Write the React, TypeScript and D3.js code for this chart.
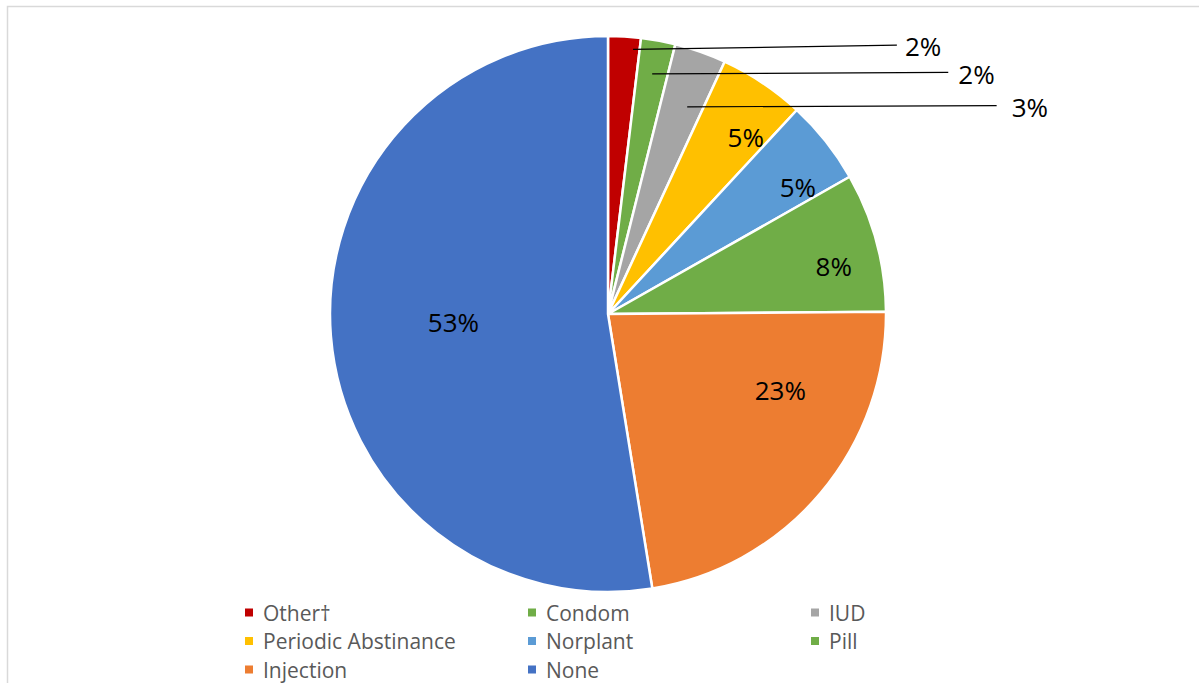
import React from 'react';
import * as d3 from 'd3';

const categories = ['Other†', 'Condom', 'IUD', 'Periodic Abstinance', 'Norplant', 'Pill', 'Injection', 'None'];
const values = [1.9, 2.0, 3.0, 5.0, 4.9, 8.1, 22.6, 52.6];
const colors = ['#C00000', '#70AD47', '#A5A5A5', '#FFC000', '#5B9BD5', '#70AD47', '#ED7D31', '#4472C4'];

// label placement (angle offset in degrees from slice middle, radius fraction); outside labels with text anchor in radius units
const labelLayout = [
  { type: 'out', da: 2.0, rf: 0.956, tx: 1.068, ty: -0.96, gap: 8 },
  { type: 'out', da: 0, rf: 0.878, tx: 1.26, ty: -0.862, gap: 10 },
  { type: 'out', da: 1.5, rf: 0.798, tx: 1.452, ty: -0.742, gap: 15 },
  { type: 'in', da: 4.2, rf: 0.805 },
  { type: 'in', da: 4.8, rf: 0.82 },
  { type: 'in', da: 3.1, rf: 0.83 },
  { type: 'in', da: -16.3, rf: 0.678 },
  { type: 'in', da: 1.3, rf: 0.557 },
];

const W = 1199;
const H = 683;
const cx = 608;
const cy = 314;
const R = 278;
const labelFont = 26;
const legendFont = 21;
const FONT = '"Open Sans", "Noto Sans", sans-serif';

export default function App() {
  const total = d3.sum(values);
  const pie = d3
    .pie<number>()
    .sort(null)
    .value((d) => d)
    .startAngle(0)
    .endAngle(2 * Math.PI);
  const arcs = pie(values);
  const arcGen = d3.arc<d3.PieArcDatum<number>>().innerRadius(0).outerRadius(R);

  const polar = (angle: number, r: number) => [cx + r * Math.sin(angle), cy - r * Math.cos(angle)];

  const legendCols = 3;
  const legendX = d3.scaleLinear().domain([0, 1]).range([245, 528]);
  const legendY = d3.scaleLinear().domain([0, 1]).range([613, 641.5]);

  return (
    <svg
      width={W}
      height={H}
      style={{ position: 'absolute', left: 0, top: 0, display: 'block', background: '#fff' }}
      fontFamily={FONT}
    >
      <rect x={7.5} y={6.5} width={W + 50} height={H + 50} fill="#fff" stroke="#D9D9D9" strokeWidth={1.5} />
      <g transform={`translate(${cx},${cy})`}>
        {arcs.map((a, i) => (
          <path key={i} d={arcGen(a) || ''} fill={colors[i]} stroke="#fff" strokeWidth={2.5} strokeLinejoin="round" />
        ))}
      </g>
      <g>
        {arcs.map((a, i) => {
          const lay = labelLayout[i] as any;
          const mid = (a.startAngle + a.endAngle) / 2 + (lay.da * Math.PI) / 180;
          const text = `${Math.round((values[i] / total) * 100)}%`;
          if (lay.type === 'in') {
            const [x, y] = polar(mid, lay.rf * R);
            return (
              <text key={i} x={x} y={y + 0.36 * labelFont} textAnchor="middle" fontSize={labelFont} fill="#000">
                {text}
              </text>
            );
          }
          const [ax, ay] = polar(mid, lay.rf * R);
          const tx = cx + lay.tx * R;
          const ty = cy + lay.ty * R;
          return (
            <g key={i}>
              <line x1={ax} y1={ay} x2={tx - lay.gap} y2={ty - 2} stroke="#000" strokeWidth={1.2} />
              <text x={tx} y={ty + 0.36 * labelFont} textAnchor="start" fontSize={labelFont} fill="#000">
                {text}
              </text>
            </g>
          );
        })}
      </g>
      <g>
        {categories.map((c, i) => {
          const col = i % legendCols;
          const row = Math.floor(i / legendCols);
          const x = legendX(col);
          const y = legendY(row);
          return (
            <g key={c}>
              <rect x={x} y={y - 4.5} width={8} height={8} fill={colors[i]} />
              <text x={x + 18} y={y + 0.36 * legendFont} fontSize={legendFont} fill="#595959">
                {c}
              </text>
            </g>
          );
        })}
      </g>
    </svg>
  );
}
